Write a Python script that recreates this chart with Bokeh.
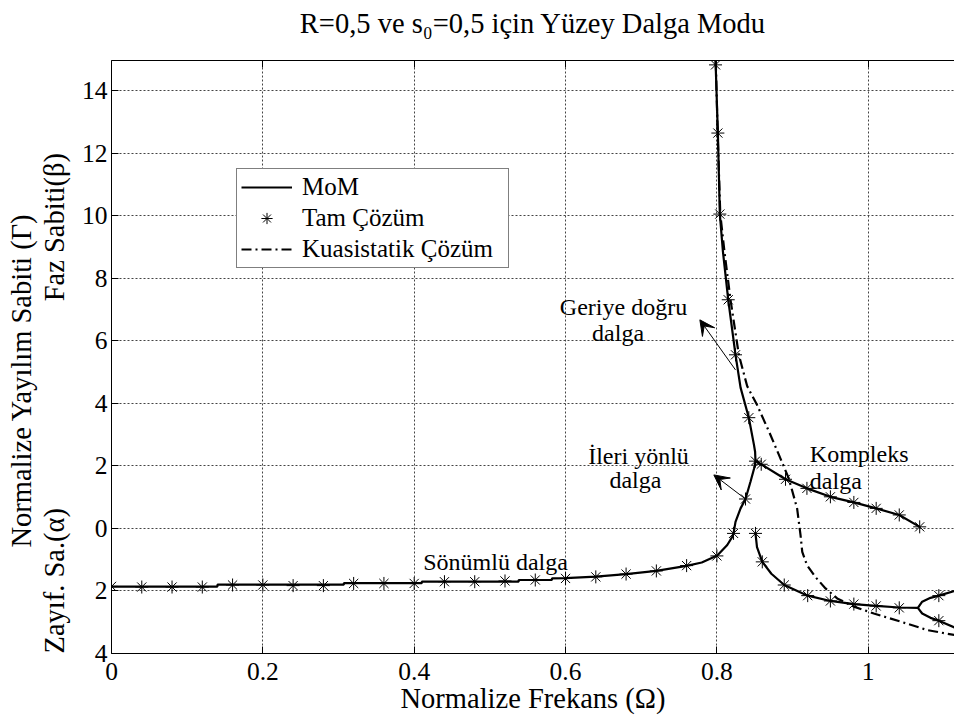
import math
from bokeh.plotting import figure
from bokeh.models import (Range1d, FixedTicker, LinearAxis, Legend, LegendItem,
                          Label, Arrow, VeeHead, Title)
from bokeh.embed import file_html
from bokeh.resources import INLINE

SERIF = "Liberation Serif"
NB = "\u00a0"

# ---------------- data ----------------
x_ticks = [0, 0.2, 0.4, 0.6, 0.8, 1.0]
x_tick_labels = ["0", "0.2", "0.4", "0.6", "0.8", "1"]
y_ticks = [-4, -2, 0, 2, 4, 6, 8, 10, 12, 14]
y_tick_labels = ["4", "2", "0", "2", "4", "6", "8", "10", "12", "14"]

# MoM: attenuation branch -> forward wave -> backward wave (one continuous curve)
mom_main_x = [0.00, 0.14, 0.14, 0.307, 0.307, 0.41, 0.41, 0.538, 0.538, 0.582, 0.582,
              0.60, 0.64, 0.68, 0.72, 0.76, 0.78, 0.8005, 0.8137, 0.8203, 0.822,
              0.8246, 0.8313, 0.8378, 0.8444, 0.849, 0.851, 0.8505, 0.849, 0.8422,
              0.8313, 0.8246, 0.815, 0.808, 0.8039, 0.8013, 0.7982]
mom_main_y = [-1.86, -1.86, -1.80, -1.80, -1.75, -1.75, -1.705, -1.705, -1.65, -1.65, -1.60,
              -1.59, -1.54, -1.46, -1.36, -1.20, -1.09, -0.87, -0.53, -0.27, -0.16,
              0.21, 0.64, 0.94, 1.49, 1.90, 2.15, 2.45, 2.67, 3.54,
              4.50, 5.55, 7.31, 8.85, 10.05, 12.64, 14.96]

# MoM: complex wave, phase part
mom_cb_x = [0.851, 0.8586, 0.8907, 0.919, 0.950, 0.981, 1.0105, 1.041, 1.068]
mom_cb_y = [2.15, 2.05, 1.57, 1.28, 1.01, 0.83, 0.64, 0.43, 0.05]

# MoM: complex wave, attenuation part (down to the split) and upper split branch
mom_ca_x = [0.851, 0.853, 0.860, 0.872, 0.889, 0.920, 0.950, 0.981, 1.0105, 1.041,
            1.0656, 1.0713, 1.0823, 1.0933, 1.114]
mom_ca_y = [-0.16, -0.60, -1.07, -1.45, -1.81, -2.15, -2.32, -2.42, -2.48, -2.53,
            -2.54, -2.345, -2.22, -2.15, -2.00]

# MoM: lower split branch
mom_low_x = [1.0656, 1.0713, 1.0823, 1.0933, 1.114]
mom_low_y = [-2.54, -2.72, -2.86, -2.95, -3.17]

# Quasistatic solution
qs_x = [0.7985, 0.801, 0.8045, 0.810, 0.818, 0.829, 0.840, 0.853, 0.869, 0.882,
        0.895, 0.906, 0.9105, 0.9128, 0.919, 0.930, 0.9436, 0.959, 0.981, 1.0074,
        1.0427, 1.078, 1.114]
qs_y = [14.96, 12.64, 10.05, 8.85, 7.31, 5.55, 4.55, 3.95, 3.09, 2.35,
        1.60, 0.64, -0.21, -0.75, -1.17, -1.55, -1.92, -2.24, -2.50, -2.72,
        -2.98, -3.25, -3.41]

# Exact solution (markers)
exact_x = [0.00, 0.04, 0.08, 0.12, 0.16, 0.20, 0.24, 0.28, 0.32, 0.36, 0.40, 0.44, 0.48,
           0.52, 0.56, 0.60, 0.64, 0.68, 0.72, 0.76, 0.80,
           0.822, 0.8378, 0.851, 0.8422, 0.8246, 0.815, 0.8039, 0.8013, 0.7982,
           0.8586, 0.8907, 0.919, 0.950, 0.981, 1.0105, 1.041, 1.068,
           0.851, 0.860, 0.889, 0.920, 0.950, 0.981, 1.0105, 1.041, 1.0933, 1.0933]
exact_y = [-1.855, -1.875, -1.875, -1.875, -1.81, -1.81, -1.83, -1.83, -1.76, -1.76, -1.76, -1.705, -1.705,
           -1.68, -1.65, -1.60, -1.55, -1.46, -1.36, -1.19, -0.88,
           -0.16, 0.94, 2.15, 3.54, 5.55, 7.31, 10.05, 12.64, 14.82,
           2.05, 1.57, 1.28, 1.01, 0.83, 0.64, 0.43, 0.05,
           -0.16, -1.07, -1.81, -2.15, -2.32, -2.42, -2.48, -2.54, -2.15, -2.95]

# ---------------- figure ----------------
p = figure(width=954, height=718, output_backend="svg", toolbar_location=None,
           title_location=None,
           x_range=Range1d(0, 1.114), y_range=Range1d(-4, 14.96),
           min_border_left=111, min_border_right=0, min_border_top=60,
           min_border_bottom=65)
p.outline_line_color = None
p.background_fill_color = "white"
p.border_fill_color = "white"

for ax, ticks, labels in ((p.xaxis[0], x_ticks, x_tick_labels),
                          (p.yaxis[0], y_ticks, y_tick_labels)):
    ax.ticker = FixedTicker(ticks=ticks)
    ax.major_label_overrides = dict(zip(ticks, labels))
    ax.major_label_text_font = SERIF
    ax.major_label_text_font_size = "25.5px"
    ax.major_label_text_color = "black"
    ax.major_tick_in = 7
    ax.major_tick_out = 0
    ax.minor_tick_line_color = None
    ax.axis_line_color = "black"
    ax.major_tick_line_color = "black"
    ax.axis_line_width = 1
    ax.axis_label_text_font = SERIF
    ax.axis_label_text_font_size = "28.5px"
    ax.axis_label_text_font_style = "normal"
    ax.axis_label_text_color = "black"
p.xaxis.major_label_standoff = 9
p.yaxis.major_label_standoff = 4
p.xaxis.axis_label = "Normalize Frekans (Ω)"
p.xaxis.axis_label_standoff = 0

# top axis: ticks inside, and the chart title as its label
top_axis = LinearAxis(ticker=FixedTicker(ticks=x_ticks),
                      major_label_overrides={t: "" for t in x_ticks},
                      major_label_text_font_size="1px",
                      major_label_standoff=0,
                      major_tick_in=7, major_tick_out=0,
                      minor_tick_line_color=None,
                      axis_line_color="black", major_tick_line_color="black",
                      axis_label="R=0,5 ve s\u2080=0,5 için Yüzey Dalga Modu",
                      axis_label_standoff=22,
                      axis_label_text_font=SERIF, axis_label_text_font_size="28.5px",
                      axis_label_text_font_style="normal", axis_label_text_color="black")
p.add_layout(top_axis, "above")

# y-axis label texts (two columns)
t_inner = Title(text="Zayıf. Sa.(α)" + NB * 29 + "Faz Sabiti(β)", align="left", offset=0,
                text_font=SERIF, text_font_size="28.5px", text_font_style="normal",
                text_color="black", standoff=17)
p.add_layout(t_inner, "left")
t_outer = Title(text="Normalize Yayılım Sabiti (Γ)", align="left", offset=106,
                text_font=SERIF, text_font_size="28.5px", text_font_style="normal",
                text_color="black", standoff=-17)
p.add_layout(t_outer, "left")

p.xgrid.ticker = FixedTicker(ticks=x_ticks)
p.ygrid.ticker = FixedTicker(ticks=y_ticks)
for g in (p.xgrid[0], p.ygrid[0]):
    g.grid_line_color = "#444444"
    g.grid_line_dash = "2 2"
    g.grid_line_width = 1

# curves
r_mom = p.line(mom_main_x, mom_main_y, line_color="black", line_width=2.2)
p.line(mom_cb_x, mom_cb_y, line_color="black", line_width=2.2)
p.line(mom_ca_x, mom_ca_y, line_color="black", line_width=2.2)
p.line(mom_low_x, mom_low_y, line_color="black", line_width=2.2)
r_qs = p.line(qs_x, qs_y, line_color="black", line_width=2.2, line_dash="10 4 2 4")
r_ex = p.scatter(exact_x, exact_y, marker="asterisk", size=13, line_color="black",
                 line_width=1)

legend = Legend(items=[LegendItem(label="MoM", renderers=[r_mom]),
                       LegendItem(label="Tam Çözüm", renderers=[r_ex]),
                       LegendItem(label="Kuasistatik Çözüm", renderers=[r_qs])],
                location=(125, 385), orientation="vertical",
                border_line_color="black", border_line_width=1,
                background_fill_color="white", background_fill_alpha=1.0,
                label_text_font=SERIF, label_text_font_size="25px",
                label_text_color="black",
                glyph_width=51, glyph_height=28, label_height=28, label_standoff=10,
                padding=4, spacing=3, margin=0, label_width=202)
p.add_layout(legend)


def lab(x, y, text, size, align="left"):
    p.add_layout(Label(x=x, y=y, text=text, text_font=SERIF,
                       text_font_size=size, text_color="black",
                       text_align=align, text_baseline="alphabetic"))


# annotations inside the axes
lab(0.6766, 7.092, "Geriye doğru", "24px", align="center")
lab(0.6694, 6.238, "dalga", "24px", align="center")
lab(0.6964, 2.326, "İleri yönlü", "24px", align="center")
lab(0.6923, 1.558, "dalga", "24px", align="center")
lab(0.9228, 2.367, "Kompleks", "24px")
lab(0.9228, 1.526, "dalga", "24px")
lab(0.4119, -1.088, "Sönümlü dalga", "24px")

p.add_layout(Arrow(end=VeeHead(size=15, fill_color="black", line_color="black"),
                   x_start=0.8246, y_start=5.067, x_end=0.7775, y_end=6.667,
                   line_color="black", line_width=1))
p.add_layout(Arrow(end=VeeHead(size=15, fill_color="black", line_color="black"),
                   x_start=0.8378, y_start=0.94, x_end=0.796, y_end=1.71,
                   line_color="black", line_width=1))

open("out.html", "w").write(file_html(p, INLINE))
